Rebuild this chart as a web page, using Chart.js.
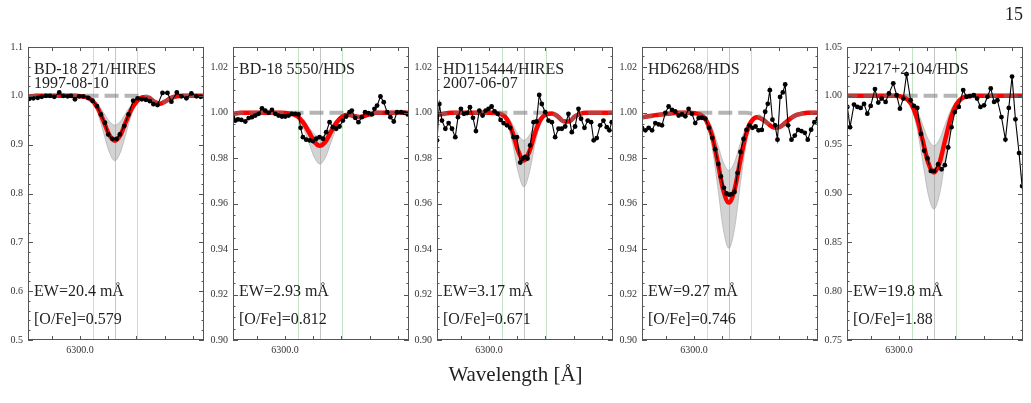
<!DOCTYPE html>
<html><head><meta charset="utf-8">
<script src="https://cdn.jsdelivr.net/npm/chart.js@4.4.1/dist/chart.umd.min.js"></script>
<style>
html,body{margin:0;padding:0;background:#fff;}
#fig{position:relative;width:1031px;height:403px;overflow:hidden;background:#fff;font-family:'Liberation Serif',serif;color:#222;}
#fig canvas{position:absolute;top:0;}
#xlabel{position:absolute;left:0;width:1031px;top:362px;text-align:center;font-size:21px;}
#pagenum{position:absolute;right:8px;top:4px;font-size:18px;}
</style></head><body>
<div id="fig">
<canvas id="c0" width="210" height="370"></canvas>
<canvas id="c1" width="210" height="370"></canvas>
<canvas id="c2" width="210" height="370"></canvas>
<canvas id="c3" width="210" height="370"></canvas>
<canvas id="c4" width="210" height="370"></canvas>
<div id="xlabel">Wavelength [Å]</div>
<div id="pagenum">15</div>
</div>
<script>
// ---------- DATA ----------
const titles = [["BD-18 271/HIRES","1997-08-10"],["BD-18 5550/HDS"],["HD115444/HIRES","2007-06-07"],["HD6268/HDS"],["J2217+2104/HDS"]];
const ewLabels = ["EW=20.4 mÅ","EW=2.93 mÅ","EW=3.17 mÅ","EW=9.27 mÅ","EW=19.8 mÅ"];
const ofeLabels = ["[O/Fe]=0.579","[O/Fe]=0.812","[O/Fe]=0.671","[O/Fe]=0.746","[O/Fe]=1.88"];
const yMins = [0.5, 0.90, 0.90, 0.90, 0.75];
const yMaxs = [1.1, 1.029, 1.029, 1.029, 1.05];
const ySteps = [0.1, 0.02, 0.02, 0.02, 0.05];
const yMinorSteps = [0.02, 0.005, 0.005, 0.005, 0.01];
const yDecimals = [1, 2, 2, 2, 2];
const xRange = [6299.54, 6301.10];
const xTickStep = 0.25;
const xLabelTick = 6300.0;
const lineMarks = [6300.115, 6300.31, 6300.505];

const modelWl = [6299.51,6299.56,6299.61,6299.66,6299.71,6299.76,6299.81,6299.86,6299.91,6299.96,6300.01,6300.06,6300.11,6300.16,6300.21,6300.26,6300.31,6300.36,6300.41,6300.46,6300.51,6300.56,6300.61,6300.66,6300.71,6300.76,6300.81,6300.86,6300.91,6300.96,6301.01,6301.06,6301.11];

// Panel 1: BD-18 271 / HIRES
const obsWl1 = [6299.514,6299.552,6299.587,6299.626,6299.661,6299.699,6299.735,6299.773,6299.817,6299.853,6299.891,6299.921,6299.956,6299.994,6300.030,6300.074,6300.112,6300.151,6300.186,6300.222,6300.251,6300.289,6300.325,6300.354,6300.393,6300.431,6300.472,6300.511,6300.549,6300.584,6300.620,6300.652,6300.688,6300.732,6300.776,6300.811,6300.859,6300.900,6300.944,6300.988,6301.033,6301.071,6301.106];
const obsFlux1 = [0.992,0.994,0.995,0.996,0.998,1.000,1.000,0.998,1.007,1.000,0.999,1.000,0.993,0.999,0.999,0.996,0.990,0.979,0.962,0.945,0.921,0.912,0.912,0.921,0.938,0.962,0.990,0.995,0.993,0.992,0.989,0.983,0.981,1.006,1.006,0.988,1.007,0.999,0.995,1.005,0.999,0.998,0.998];
const noO1 = [0.998,0.999,1,1,1,1,1,1,1,1,1,1,1,1,1,1,1,1,1,1,1,1,0.997,0.988,0.984,0.989,0.996,0.999,1,1,1,1,1];
const fit1 = [0.998,0.999,1,1,1,1,1,1,1,1,0.999,0.997,0.990,0.974,0.948,0.920,0.908,0.920,0.948,0.974,0.990,0.997,0.996,0.988,0.984,0.989,0.996,0.999,1,1,1,1,1];
const bandLo1 = [0.998,0.999,1,1,1,1,1,1,1,1,0.999,0.996,0.986,0.963,0.924,0.885,0.867,0.885,0.924,0.963,0.986,0.996,0.996,0.988,0.984,0.989,0.996,0.999,1,1,1,1,1];
const bandHi1 = [0.998,0.999,1,1,1,1,1,1,1,1,1,0.998,0.994,0.983,0.966,0.948,0.940,0.948,0.966,0.983,0.994,0.998,0.997,0.988,0.984,0.989,0.996,0.999,1,1,1,1,1];

// Panel 2: BD-18 5550 / HDS
const obsWl2 = [6299.540,6299.561,6299.584,6299.614,6299.649,6299.679,6299.708,6299.738,6299.767,6299.797,6299.826,6299.856,6299.885,6299.915,6299.944,6299.974,6300.003,6300.033,6300.062,6300.092,6300.121,6300.139,6300.160,6300.189,6300.219,6300.248,6300.278,6300.307,6300.337,6300.366,6300.396,6300.425,6300.455,6300.484,6300.514,6300.543,6300.573,6300.593,6300.623,6300.652,6300.682,6300.711,6300.741,6300.770,6300.794,6300.817,6300.847,6300.876,6300.906,6300.935,6300.965,6300.994,6301.030,6301.059,6301.089];
const obsFlux2 = [0.9978,0.9966,0.9971,0.9969,0.9962,0.9977,0.9981,0.9988,0.9996,1.0020,1.0010,1.0000,1.0013,0.9996,0.9988,0.9984,0.9984,0.9988,0.9996,0.9996,0.9993,0.9934,0.9893,0.9882,0.9879,0.9876,0.9886,0.9893,0.9886,0.9915,0.9959,0.9937,0.9930,0.9940,0.9966,0.9984,1.0003,1.0010,0.9978,0.9959,0.9981,1.0003,0.9999,0.9993,1.0018,1.0032,1.0072,1.0047,1.0003,0.9981,0.9962,1.0003,1.0003,1.0000,0.9993];
const noO2 = [0.9993,0.9997,1,1,1,1,1,1,1,1,1,1,1,1,1,1,1,1,1,1,1,0.9996,0.9987,0.9982,0.9987,0.9995,1,1,1,1,1,1,1];
const fit2 = [0.9993,0.9997,1,1,1,1,1,1,1,1,0.9999,0.9996,0.9985,0.9959,0.9918,0.9874,0.9855,0.9874,0.9918,0.9959,0.9985,0.9992,0.9986,0.9982,0.9987,0.9995,1,1,1,1,1,1,1];
const bandLo2 = [0.9993,0.9997,1,1,1,1,1,1,1,1,0.9999,0.9993,0.9977,0.9937,0.9872,0.9805,0.9775,0.9805,0.9872,0.9937,0.9977,0.9989,0.9986,0.9982,0.9987,0.9995,1,1,1,1,1,1,1];
const bandHi2 = [0.9993,0.9997,1,1,1,1,1,1,1,1,1,0.9997,0.9989,0.9970,0.9939,0.9907,0.9893,0.9907,0.9939,0.9970,0.9989,0.9993,0.9987,0.9982,0.9987,0.9995,1,1,1,1,1,1,1];

// Panel 3: HD115444 / HIRES
const obsWl3 = [6299.540,6299.561,6299.584,6299.614,6299.643,6299.673,6299.702,6299.726,6299.752,6299.779,6299.806,6299.832,6299.859,6299.885,6299.915,6299.944,6299.971,6299.997,6300.024,6300.050,6300.077,6300.104,6300.130,6300.160,6300.189,6300.219,6300.248,6300.278,6300.301,6300.322,6300.342,6300.366,6300.396,6300.422,6300.446,6300.469,6300.499,6300.528,6300.558,6300.587,6300.617,6300.646,6300.676,6300.705,6300.735,6300.764,6300.794,6300.817,6300.847,6300.876,6300.906,6300.929,6300.956,6300.986,6301.015,6301.045,6301.068,6301.089];
const obsFlux3 = [0.9879,1.0039,0.9966,0.9930,0.9955,0.9930,0.9893,0.9981,1.0018,0.9996,0.9999,1.0025,0.9978,0.9920,1.0010,0.9988,1.0010,1.0018,1.0028,1.0007,0.9996,0.9969,0.9955,0.9945,0.9934,0.9893,0.9893,0.9781,0.9799,0.9806,0.9799,0.9857,0.9959,0.9962,1.0079,1.0039,1.0003,0.9966,0.9959,0.9893,0.9930,0.9930,0.9940,0.9996,0.9915,0.9940,1.0018,0.9974,0.9934,0.9966,0.9959,0.9879,0.9889,0.9945,0.9966,0.9937,0.9923,0.9959];
const noO3 = [0.9988,0.9993,0.9997,1,1,1,1,1,1,1,1,1,1,1,1,1,1,1,1,1,1,0.9998,0.9985,0.9963,0.9962,0.9983,0.9996,1,1,1,1,1,1];
const fit3 = [0.9988,0.9993,0.9997,1,1,1,1,1,1,1,1,0.9999,0.9994,0.9972,0.9914,0.9832,0.9790,0.9832,0.9914,0.9972,0.9994,0.9997,0.9985,0.9963,0.9962,0.9983,0.9996,1,1,1,1,1,1];
const bandLo3 = [0.9988,0.9993,0.9997,1,1,1,1,1,1,1,1,0.9999,0.9991,0.9956,0.9866,0.9739,0.9674,0.9739,0.9866,0.9956,0.9991,0.9997,0.9985,0.9963,0.9962,0.9983,0.9996,1,1,1,1,1,1];
const bandHi3 = [0.9988,0.9993,0.9997,1,1,1,1,1,1,1,1,1,0.9997,0.9984,0.9950,0.9903,0.9879,0.9903,0.9950,0.9984,0.9997,0.9998,0.9985,0.9963,0.9962,0.9983,0.9996,1,1,1,1,1,1];

// Panel 4: HD6268 / HDS
const obsWl4 = [6299.540,6299.570,6299.599,6299.629,6299.658,6299.688,6299.717,6299.747,6299.776,6299.806,6299.835,6299.865,6299.894,6299.924,6299.953,6299.983,6300.012,6300.042,6300.071,6300.101,6300.133,6300.163,6300.189,6300.216,6300.239,6300.266,6300.289,6300.313,6300.337,6300.360,6300.387,6300.413,6300.440,6300.466,6300.493,6300.519,6300.546,6300.573,6300.602,6300.632,6300.655,6300.673,6300.696,6300.720,6300.741,6300.764,6300.788,6300.809,6300.835,6300.865,6300.894,6300.924,6300.953,6300.983,6301.009,6301.039,6301.068,6301.098];
const obsFlux4 = [0.9934,0.9923,0.9934,0.9923,0.9955,0.9949,0.9945,1.0000,1.0028,1.0013,1.0006,0.9988,0.9993,0.9985,1.0018,0.9996,0.9955,0.9977,0.9978,0.9975,0.9934,0.9890,0.9840,0.9775,0.9720,0.9670,0.9645,0.9640,0.9642,0.9652,0.9736,0.9828,0.9885,0.9925,0.9945,0.9934,0.9940,0.9923,0.9925,1.0005,1.0040,1.0100,0.9970,0.9945,0.9882,1.0070,1.0090,1.0125,0.9945,0.9882,0.9900,0.9925,0.9920,0.9912,0.9882,0.9926,0.9959,0.9974];
const noO4 = [0.9978,0.9982,0.9986,0.9990,0.9993,0.9996,0.9998,1,1,1,1,1,1,1,1,1,1,1,1,1,0.9997,0.9989,0.9973,0.9951,0.9936,0.9938,0.9956,0.9977,0.9991,0.9997,1,1,1];
const fit4 = [0.9978,0.9982,0.9986,0.9990,0.9993,0.9996,0.9998,1,1,1,0.9998,0.9992,0.9966,0.9902,0.9787,0.9661,0.9605,0.9661,0.9787,0.9902,0.9963,0.9981,0.9971,0.9951,0.9936,0.9938,0.9956,0.9977,0.9991,0.9997,1,1,1];
const bandLo4 = [0.9978,0.9982,0.9986,0.9990,0.9993,0.9996,0.9998,1,1,1,0.9998,0.9987,0.9949,0.9852,0.9679,0.9489,0.9404,0.9489,0.9679,0.9852,0.9946,0.9976,0.9971,0.9951,0.9936,0.9938,0.9956,0.9977,0.9991,0.9997,1,1,1];
const bandHi4 = [0.9978,0.9982,0.9986,0.9990,0.9993,0.9996,0.9998,1,1,1,0.9999,0.9995,0.9978,0.9937,0.9864,0.9783,0.9747,0.9783,0.9864,0.9937,0.9975,0.9984,0.9972,0.9951,0.9936,0.9938,0.9956,0.9977,0.9991,0.9997,1,1,1];

// Panel 5: J2217+2104 / HDS
const obsWl5 = [6299.543,6299.567,6299.602,6299.632,6299.661,6299.691,6299.720,6299.750,6299.788,6299.817,6299.847,6299.882,6299.912,6299.950,6299.980,6300.009,6300.039,6300.068,6300.104,6300.133,6300.163,6300.195,6300.224,6300.254,6300.283,6300.313,6300.348,6300.378,6300.407,6300.437,6300.466,6300.496,6300.531,6300.570,6300.599,6300.629,6300.664,6300.693,6300.723,6300.755,6300.785,6300.814,6300.844,6300.873,6300.909,6300.944,6300.974,6301.003,6301.033,6301.065,6301.092,6301.121];
const obsFlux5 = [0.9886,0.9679,0.9910,0.9886,0.9876,0.9917,0.9817,0.9897,1.0069,0.9931,0.9972,0.9938,1.0024,1.0128,1.0007,0.9869,0.9972,1.0221,0.9955,0.9897,0.9876,0.9610,0.9438,0.9359,0.9231,0.9231,0.9300,0.9248,0.9290,0.9472,0.9679,0.9834,0.9886,1.0059,0.9990,0.9997,1.0007,0.9972,0.9886,0.9903,0.9990,1.0076,0.9938,0.9955,0.9783,0.9552,0.9876,1.0197,0.9759,0.9414,0.9076,0.8800];
const noO5 = [1,1,1,1,1,1,1,1,1,1,1,1,1,1,1,1,1,1,1,1,1,1,1,1,1,1,1,1,1,1,1,1,1];
const fit5 = [1,1,1,1,1,1,1,1,1,1,0.9995,0.9976,0.9914,0.9774,0.9548,0.9315,0.9214,0.9315,0.9548,0.9774,0.9914,0.9976,0.9995,1,1,1,1,1,1,1,1,1,1];
const bandLo5 = [1,1,1,1,1,1,1,1,1,1,0.9992,0.9964,0.9874,0.9667,0.9334,0.8990,0.8841,0.8990,0.9334,0.9667,0.9874,0.9964,0.9992,1,1,1,1,1,1,1,1,1,1];
const bandHi5 = [1,1,1,1,1,1,1,1,1,1,0.9997,0.9984,0.9944,0.9854,0.9707,0.9556,0.9490,0.9556,0.9707,0.9854,0.9944,0.9984,0.9997,1,1,1,1,1,1,1,1,1,1];

// ---------- LAYOUT ----------
const plotLefts = [28, 233, 437, 642, 847];
const panels = [
  {obsWl: obsWl1, obs: obsFlux1, noO: noO1, fit: fit1, lo: bandLo1, hi: bandHi1},
  {obsWl: obsWl2, obs: obsFlux2, noO: noO2, fit: fit2, lo: bandLo2, hi: bandHi2},
  {obsWl: obsWl3, obs: obsFlux3, noO: noO3, fit: fit3, lo: bandLo3, hi: bandHi3},
  {obsWl: obsWl4, obs: obsFlux4, noO: noO4, fit: fit4, lo: bandLo4, hi: bandHi4},
  {obsWl: obsWl5, obs: obsFlux5, noO: noO5, fit: fit5, lo: bandLo5, hi: bandHi5}
];

Chart.defaults.font.family = "'Liberation Serif', serif";
Chart.defaults.color = '#333';

const pts = (xs, ys) => xs.map((x, i) => ({x: x, y: ys[i]}));

const decor = {
  id: 'decor',
  beforeDatasetsDraw(chart, args, o) {
    const {ctx, chartArea: a, scales: {x}} = chart;
    ctx.save();
    ctx.beginPath(); ctx.rect(a.left, a.top, a.width, a.height); ctx.clip();
    lineMarks.forEach((w, k) => {
      const px = Math.round(x.getPixelForValue(w)) + 0.5;
      ctx.strokeStyle = k === 1 ? '#c6c6c6' : '#c4e2c4';
      ctx.lineWidth = 1;
      ctx.beginPath(); ctx.moveTo(px, a.top); ctx.lineTo(px, a.bottom); ctx.stroke();
    });
    ctx.restore();
  },
  afterDatasetsDraw(chart, args, o) {
    const {ctx, chartArea: a, scales: {x, y}} = chart;
    ctx.save();
    ctx.strokeStyle = '#555'; ctx.lineWidth = 1;
    ctx.strokeRect(a.left + 0.5, a.top + 0.5, a.width - 1, a.height - 1);
    x.ticks.forEach(t => {
      const px = Math.round(x.getPixelForValue(t.value)) + 0.5;
      ctx.beginPath();
      ctx.moveTo(px, a.bottom); ctx.lineTo(px, a.bottom - 4);
      ctx.moveTo(px, a.top); ctx.lineTo(px, a.top + 4);
      ctx.stroke();
    });
    y.ticks.forEach(t => {
      const py = Math.round(y.getPixelForValue(t.value)) + 0.5;
      ctx.beginPath();
      ctx.moveTo(a.left, py); ctx.lineTo(a.left + 5, py);
      ctx.moveTo(a.right, py); ctx.lineTo(a.right - 5, py);
      ctx.stroke();
    });
    const n = Math.round((y.max - y.min) / o.minor);
    for (let k = 0; k <= n; k++) {
      const v = y.min + k * o.minor;
      if (v > y.max + 1e-9) break;
      const py = Math.round(y.getPixelForValue(v)) + 0.5;
      ctx.beginPath();
      ctx.moveTo(a.left, py); ctx.lineTo(a.left + 2.5, py);
      ctx.moveTo(a.right, py); ctx.lineTo(a.right - 2.5, py);
      ctx.stroke();
    }
    ctx.fillStyle = '#222';
    ctx.font = "16px 'Liberation Serif', serif";
    ctx.textBaseline = 'alphabetic';
    ctx.textAlign = 'left';
    o.top.forEach((s, k) => ctx.fillText(s, a.left + 6, a.top + 27 + k * 14));
    ctx.fillText(o.ew, a.left + 6, a.bottom - 44);
    ctx.fillText(o.ofe, a.left + 6, a.bottom - 16);
    ctx.restore();
  }
};

panels.forEach((p, i) => {
  const cv = document.getElementById('c' + i);
  cv.style.left = (plotLefts[i] - 30) + 'px';
  new Chart(cv, {
    type: 'line',
    data: {
      datasets: [
        {data: pts(p.obsWl, p.obs), borderColor: '#000', borderWidth: 1.1, pointRadius: 2.4, pointBackgroundColor: '#000', pointBorderWidth: 0, tension: 0, order: 0, clip: 0},
        {data: pts(modelWl, p.noO), borderColor: 'rgba(120,120,120,0.55)', borderWidth: 4, borderDash: [14, 6], pointRadius: 0, cubicInterpolationMode: 'monotone', order: 1, clip: 0},
        {data: pts(modelWl, p.fit), borderColor: '#ff0000', borderWidth: 4.5, pointRadius: 0, cubicInterpolationMode: 'monotone', order: 2, clip: 0},
        {data: pts(modelWl, p.hi), borderColor: 'rgba(140,140,140,0.55)', borderWidth: 0.8, pointRadius: 0, cubicInterpolationMode: 'monotone', fill: '+1', backgroundColor: 'rgba(150,150,150,0.42)', order: 3, clip: 0},
        {data: pts(modelWl, p.lo), borderColor: 'rgba(140,140,140,0.55)', borderWidth: 0.8, pointRadius: 0, cubicInterpolationMode: 'monotone', fill: false, order: 4, clip: 0}
      ]
    },
    options: {
      responsive: false,
      animation: false,
      events: [],
      layout: {padding: {top: 47, right: 4, bottom: 0, left: 0}, autoPadding: false},
      plugins: {
        legend: {display: false},
        tooltip: {enabled: false},
        decor: {top: titles[i], ew: ewLabels[i], ofe: ofeLabels[i], minor: yMinorSteps[i]}
      },
      scales: {
        x: {
          type: 'linear', min: xRange[0], max: xRange[1],
          grid: {display: false, drawTicks: false},
          border: {display: false},
          ticks: {stepSize: xTickStep, includeBounds: false, autoSkip: false, maxRotation: 0, padding: 4,
            font: {size: 10}, color: '#333',
            callback: v => Math.abs(v - xLabelTick) < 1e-6 ? xLabelTick.toFixed(1) : ''},
          afterFit: s => { s.height = 30; }
        },
        y: {
          type: 'linear', min: yMins[i], max: yMaxs[i],
          grid: {display: false, drawTicks: false},
          border: {display: false},
          ticks: {stepSize: ySteps[i], includeBounds: false, autoSkip: false, padding: 5,
            font: {size: 10}, color: '#333',
            callback: v => Number(v).toFixed(yDecimals[i])},
          afterFit: s => { s.width = 30; }
        }
      }
    },
    plugins: [decor]
  });
});
</script>
</body></html>
